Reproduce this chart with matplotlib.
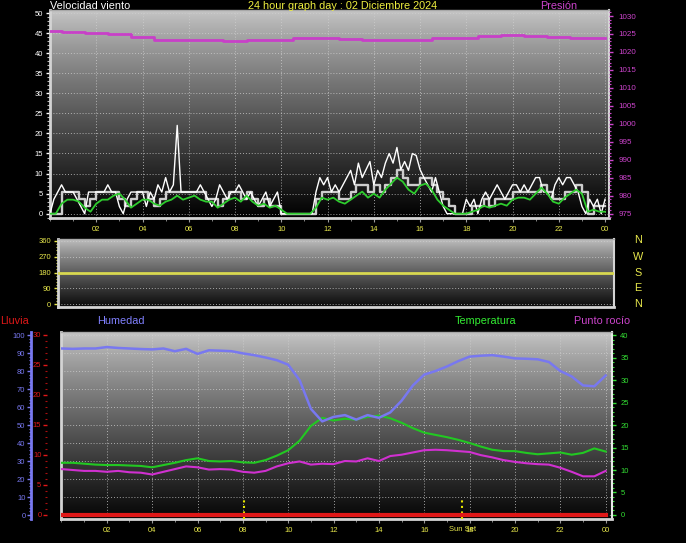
import numpy as np
import matplotlib.pyplot as plt
from matplotlib.ticker import MultipleLocator
from matplotlib.transforms import blended_transform_factory

plt.rcParams['font.family'] = ['Liberation Sans Narrow', 'Liberation Sans', 'DejaVu Sans']

W, H = 686, 543

# ---- datos ----
hour_labels = ['02', '04', '06', '08', '10', '12', '14', '16', '18', '20', '22', '00']

# racha (cada 10 min)
gust = [0, 3.6, 5.4, 7.2, 5.4, 5.4,
        5.4, 3.6, 1.8, 0, 5.4, 5.4,
        5.4, 5.4, 5.4, 7.2, 5.4, 5.4,
        1.8, 0, 3.6, 5.4, 5.4, 5.4,
        5.4, 1.8, 5.4, 3.6, 7.2, 5.4,
        9.0, 5.4, 7.2, 22.0, 5.4, 5.4,
        5.4, 5.4, 5.4, 7.2, 5.4, 3.6,
        1.8, 3.6, 7.2, 5.4, 3.6, 5.4,
        5.4, 7.2, 5.4, 3.6, 5.4, 3.6,
        1.8, 3.6, 5.4, 1.8, 3.6, 5.4,
        0, 0, 0, 0, 0, 0,
        0, 0, 0, 5.4, 9.0, 7.2,
        9.0, 5.4, 7.2, 5.4, 7.2, 9.0,
        10.8, 7.2, 12.6, 9.0, 11.0, 13.0,
        7.2, 10.8, 9.0, 12.6, 15.0, 12.6,
        16.5, 11.0, 13.0, 10.8, 15.0, 14.5,
        11.0, 9.0, 7.2, 5.4, 9.0, 5.4,
        1.8, 0, 0, 0, 0, 0,
        3.6, 1.8, 3.6, 0, 3.6, 5.4,
        3.6, 5.4, 7.2, 5.4, 3.6, 5.4,
        7.2, 7.2, 5.4, 7.2, 5.4, 7.2,
        9.0, 9.0, 5.4, 5.4, 3.6, 7.2,
        9.0, 7.2, 9.0, 9.0, 7.2, 5.4,
        1.8, 0, 3.6, 1.8, 3.6, 0,
        3.6]

# velocidad (cada 15 min)
speed = [0, 0, 5.4, 5.4,
         5.4, 3.6, 1.8, 3.6,
         5.4, 5.4, 5.4, 5.4,
         3.6, 1.8, 3.6, 5.4,
         5.4, 3.6, 1.8, 3.6,
         5.4, 5.4, 5.4, 5.4,
         5.4, 5.4, 5.4, 3.6,
         3.6, 1.8, 3.6, 5.4,
         5.4, 3.6, 5.4, 3.6,
         1.8, 3.6, 1.8, 1.8,
         0, 0, 0, 0,
         0, 0, 3.6, 5.4,
         5.4, 5.4, 3.6, 3.6,
         5.4, 7.2, 7.2, 5.4,
         7.2, 5.4, 7.2, 9.0,
         10.8, 9.0, 7.2, 7.2,
         9.0, 9.0, 7.2, 5.4,
         3.6, 1.8, 0, 0,
         0, 1.8, 1.8, 3.6,
         1.8, 3.6, 3.6, 3.6,
         5.4, 5.4, 5.4, 5.4,
         5.4, 7.2, 5.4, 3.6,
         3.6, 5.4, 5.4, 7.2,
         5.4, 0, 1.8, 1.8,
         1.8]

# velocidad media (cada 15 min)
wind_avg = [0, 0, 2.5, 3.5,
            3.5, 3.0, 1.5, 0.5,
            2.5, 3.5, 3.5, 4.5,
            5.0, 3.5, 1.5, 2.5,
            3.5, 3.5, 2.5, 2.0,
            3.0, 3.5, 4.5, 3.5,
            4.0, 4.5, 3.5, 3.0,
            3.0, 1.5, 2.5, 3.5,
            4.0, 3.0, 4.5, 3.0,
            2.0, 2.5, 1.5, 2.0,
            1.0, 0, 0, 0,
            0, 0, 1.5, 4.0,
            3.5, 4.0, 3.0, 2.5,
            3.5, 4.5, 5.5, 4.0,
            5.0, 4.0, 6.0, 7.5,
            9.0, 8.0, 6.0, 5.0,
            7.0, 7.5, 6.0, 3.5,
            2.0, 1.0, 0, 0,
            0, 0.5, 1.0, 2.0,
            1.5, 2.0, 2.5, 2.0,
            3.5, 4.0, 4.0, 3.5,
            5.0, 6.5, 5.0, 3.0,
            2.5, 4.0, 5.0, 6.0,
            5.0, 0.5, 1.0, 0.5,
            0.5]

# presión (horaria)
pressure = [1025.9, 1025.6, 1025.4, 1024.9, 1024.1, 1023.4, 1023.3, 1023.2,
            1023.1, 1023.2, 1023.4, 1024.0, 1023.8, 1023.6, 1023.4, 1023.3,
            1023.3, 1023.8, 1024.0, 1024.3, 1024.7, 1024.3, 1024.2, 1023.9,
            1023.9]

# dirección del viento (horaria)
wind_dir = [180] * 25

# humedad, temperatura, punto de rocío (cada 30 min)
humidity = [92.5, 92.3, 92.5, 92.5, 93.3, 92.8, 92.5, 92.2, 92.0, 92.5,
            91.0, 92.3, 89.5, 91.5, 91.3, 91.0, 89.8, 88.8, 87.5, 86.0,
            83.5, 75.0, 59.0, 52.0, 54.5, 55.5, 53.0, 55.5, 54.0, 57.0,
            63.5, 72.0, 78.0, 80.0, 82.5, 85.5, 88.0, 88.5, 88.8, 88.0,
            87.0, 86.8, 86.5, 85.0, 80.0, 77.0, 72.0, 71.5, 77.5]

temperature = [11.6, 11.6, 11.4, 11.2, 11.1, 11.1, 11.0, 10.9, 10.6, 11.1,
               11.6, 12.2, 12.6, 12.0, 11.9, 12.0, 11.7, 11.6, 12.2, 13.2,
               14.4, 16.5, 19.8, 21.6, 21.0, 21.4, 21.2, 21.8, 22.1, 21.5,
               20.5, 19.3, 18.3, 17.8, 17.3, 16.7, 16.0, 15.2, 14.5, 14.2,
               14.2, 13.8, 13.5, 13.7, 13.9, 13.4, 13.8, 14.8, 14.1]

dewpoint = [10.2, 10.0, 9.8, 9.8, 9.6, 9.8, 9.5, 9.4, 9.0, 9.6,
            10.2, 10.8, 10.6, 10.1, 10.2, 10.1, 9.6, 9.4, 9.8, 10.8,
            11.5, 11.9, 11.2, 11.4, 11.3, 12.0, 11.9, 12.6, 12.0, 13.1,
            13.4, 13.9, 14.4, 14.5, 14.4, 14.2, 14.0, 13.3, 12.8, 12.2,
            11.8, 11.5, 11.3, 11.2, 10.5, 9.6, 8.6, 8.6, 9.8]

rain = [0] * 25

sunrise = 8.05
sunset = 17.67

t10 = np.arange(len(gust)) / 6
t15 = np.arange(len(speed)) / 4
t60 = np.arange(len(pressure))
t30 = np.arange(len(humidity)) / 2

YELLOW = '#e8e84c'
MAGENTA = '#cc44cc'
GREEN = '#33dd33'
BLUE = '#7878f0'
RED = '#e01818'
FRAME = '#d4d4d4'
GRID = dict(color='#d0d0d0', linestyle=(0, (1, 2)), linewidth=0.7, alpha=0.75)
TXT = 7.8

fig = plt.figure(figsize=(W / 100, H / 100), dpi=100, facecolor='black')


def px_axes(l, t, r, b):
    return fig.add_axes([l / W, 1 - b / H, (r - l) / W, (b - t) / H])


def shade(ax, top, bottom):
    g = np.linspace(0, 1, 256)[:, None]
    v = top + (bottom - top) * g ** 0.85
    img = np.dstack([v, v, v])
    ax.imshow(img, extent=[0, 1, 0, 1], transform=ax.transAxes,
              aspect='auto', zorder=0, interpolation='bilinear')


def frame(ax):
    ax.set_facecolor('black')
    for s in ['left', 'bottom']:
        ax.spines[s].set_color(FRAME)
        ax.spines[s].set_linewidth(2)
    ax.spines['right'].set_color(FRAME)
    ax.spines['right'].set_linewidth(1.5)
    ax.spines['top'].set_color('#a8a8a8')
    ax.spines['top'].set_linewidth(1)


# ---- panel 1: viento + presión ----
ax1 = px_axes(50, 10, 609, 218)
frame(ax1)
shade(ax1, 0.78, 0.0)
ax1.plot(t15, speed, color='#cdcdcd', lw=1.7, drawstyle='steps-post', zorder=2)
ax1.plot(t10, gust, color='white', lw=1.0, zorder=3)
ax1.plot(t15, wind_avg, color='#2ecc2e', lw=1.3, zorder=4)
ax1.set_xlim(0, 24.17)
ax1.set_ylim(-1.07, 50.75)
ax1.set_yticks(range(0, 51, 5))
ax1.yaxis.set_minor_locator(MultipleLocator(1))
ax1.set_xticks(range(2, 25, 2))
ax1.set_xticklabels(hour_labels)
ax1.xaxis.set_minor_locator(MultipleLocator(1))
ax1.grid(True, **GRID)
ax1.tick_params(axis='y', which='major', colors='white', labelsize=5.5, length=3, width=1, pad=2)
ax1.tick_params(axis='y', which='minor', colors='#bbbbbb', length=2, width=0.8)
ax1.tick_params(axis='x', which='major', colors='#999999', labelcolor=YELLOW, labelsize=5.5, length=3, pad=3)
ax1.tick_params(axis='x', which='minor', colors='#999999', length=2)

ax1p = ax1.twinx()
ax1p.plot(t60, pressure, color='#c840c8', lw=2, drawstyle='steps-mid', zorder=5)
ax1p.set_ylim(973.8, 1031.67)
ax1p.set_yticks(range(975, 1031, 5))
ax1p.yaxis.set_minor_locator(MultipleLocator(1))
ax1p.tick_params(axis='y', which='major', colors=MAGENTA, labelsize=5.8, length=3, width=1, pad=4)
ax1p.tick_params(axis='y', which='minor', colors=MAGENTA, length=1.5, width=0.8)
for s in ax1p.spines.values():
    s.set_visible(False)

# ---- panel 2: dirección ----
ax2 = px_axes(58, 239, 614, 307)
frame(ax2)
shade(ax2, 0.76, 0.04)
ax2.plot(t60, wind_dir, color='#d8d850', lw=2, zorder=3)
ax2.set_xlim(0, 24)
ax2.set_ylim(-17.1, 371.4)
ax2.set_yticks(range(0, 361, 90))
ax2.yaxis.set_minor_locator(MultipleLocator(18))
ax2.set_xticks([])
ax2.grid(True, axis='y', **GRID)
ax2.tick_params(axis='y', which='major', colors=YELLOW, labelsize=5.5, length=3, width=1, pad=2)
ax2.tick_params(axis='y', which='minor', colors=YELLOW, length=1.5, width=0.8)

for lab, y in zip(['N', 'W', 'S', 'E', 'N'], [240, 257, 273, 288, 304]):
    fig.text(638 / W, 1 - y / H, lab, color=YELLOW, fontsize=TXT, ha='center', va='center')

# ---- panel 3: temperatura, humedad, lluvia ----
ax3 = px_axes(61, 332, 612, 519)
frame(ax3)
ax3.spines['right'].set_color('#e8e8e8')
shade(ax3, 0.78, 0.02)
ax3.set_xlim(-0.02, 24.28)
ax3.set_ylim(-0.89, 40.67)
for v in range(0, 101, 10):
    ax3.axhline(v * 0.4, zorder=1, **GRID)
ax3.set_xticks(range(2, 25, 2))
ax3.set_xticklabels(hour_labels)
ax3.xaxis.set_minor_locator(MultipleLocator(1))
ax3.grid(True, axis='x', **GRID)
ax3.plot(t30, temperature, color='#22c822', lw=1.5, zorder=3)
ax3.plot(t30, dewpoint, color='#d030d0', lw=1.5, zorder=3)
ax3.vlines([sunrise, sunset], -0.89, 3.8, colors='#e8e800', linestyles=':', lw=1.5, zorder=4)
ax3.text(sunset, -0.055, 'Sun Set', color=YELLOW, fontsize=5.5, ha='center', va='center',
         transform=blended_transform_factory(ax3.transData, ax3.transAxes))

ax3r = ax3.twinx()
ax3r.plot(t60, rain, color=RED, lw=3, zorder=3)
ax3r.set_ylim(-0.667, 30.5)
ax3r.yaxis.tick_left()
ax3r.spines['left'].set_position(('axes', (47 - 61) / 551))
for s in ax3r.spines.values():
    s.set_visible(False)
ax3r.set_yticks(range(0, 31, 5))
ax3r.yaxis.set_minor_locator(MultipleLocator(1))
ax3r.tick_params(axis='y', which='major', colors=RED, labelsize=5.5, length=3, width=1, pad=1)
ax3r.tick_params(axis='y', which='minor', colors='#aa1010', length=1.5, width=0.8)

ax3h = ax3.twinx()
ax3h.plot(t30, humidity, color=BLUE, lw=1.8, zorder=3)
ax3h.set_ylim(-2.22, 101.67)
ax3h.yaxis.tick_left()
for s in ax3h.spines.values():
    s.set_visible(False)
ax3h.spines['left'].set_visible(True)
ax3h.spines['left'].set_position(('axes', (31 - 61) / 551))
ax3h.spines['left'].set_color(BLUE)
ax3h.spines['left'].set_linewidth(2)
ax3h.set_yticks(range(0, 101, 10))
ax3h.yaxis.set_minor_locator(MultipleLocator(2))
ax3h.tick_params(axis='y', which='major', colors=BLUE, labelsize=5.5, length=3, width=1, pad=1)
ax3h.tick_params(axis='y', which='minor', colors=BLUE, length=1.5, width=0.8)

# temperatura a la derecha (twinx la deja a la izquierda)
ax3.yaxis.tick_right()
ax3.set_yticks(range(0, 41, 5))
ax3.yaxis.set_minor_locator(MultipleLocator(1))
ax3.tick_params(axis='y', which='major', colors=GREEN, labelsize=5.5, length=3, width=1, pad=3)
ax3.tick_params(axis='y', which='minor', colors=GREEN, length=1.5, width=0.8)
ax3.tick_params(axis='x', which='major', colors='#999999', labelcolor=YELLOW, labelsize=5.5, length=3, pad=3)
ax3.tick_params(axis='x', which='minor', colors='#999999', length=2)

# ---- títulos ----
def label(x, y, s, color, ha='left'):
    fig.text(x / W, 1 - y / H, s, color=color, fontsize=TXT, ha=ha, va='center')


label(49.5, 6, 'Velocidad viento', 'white')
label(343, 6, '24 hour graph day : 02 Diciembre 2024', '#f0f040', ha='center')
label(540, 6, 'Presión', MAGENTA)
label(0, 321, 'Lluvia', RED)
label(97, 321, 'Humedad', '#8080ff')
label(455, 321, 'Temperatura', '#33ee33')
label(574, 321, 'Punto rocío', MAGENTA)

fig.savefig('out.png', dpi=100, facecolor='black')
